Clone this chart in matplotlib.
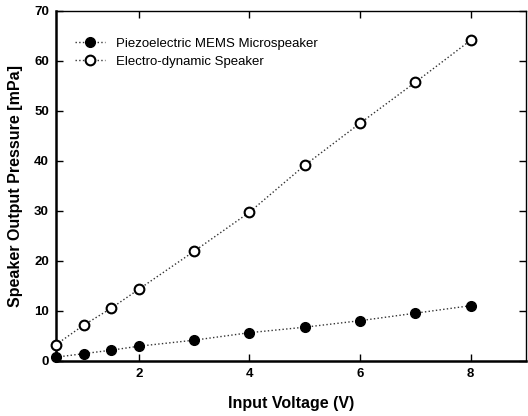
import matplotlib
matplotlib.use('Agg')
import matplotlib.pyplot as plt

plt.rcParams['font.family'] = ['Liberation Sans', 'DejaVu Sans']

voltage = [0.5, 1, 1.5, 2, 3, 4, 5, 6, 7, 8]
mems = [0.7, 1.4, 2.1, 2.9, 4.1, 5.6, 6.7, 8.0, 9.5, 11.0]
dynamic = [3.2, 7.1, 10.5, 14.3, 21.9, 29.7, 39.1, 47.5, 55.7, 64.1]
xticks = [2, 4, 6, 8]
yticks = [0, 10, 20, 30, 40, 50, 60, 70]

fig = plt.figure(figsize=(5.28, 4.16), dpi=100)
ax = fig.add_axes([0.106, 0.133, 0.89, 0.841])

ax.plot(voltage, mems, linestyle=':', color='#333333', lw=1,
        marker='o', markersize=7, markerfacecolor='black', markeredgecolor='black',
        label='Piezoelectric MEMS Microspeaker', clip_on=False, zorder=3)
ax.plot(voltage, dynamic, linestyle=':', color='#333333', lw=1,
        marker='o', markersize=7, markerfacecolor='white', markeredgecolor='black',
        markeredgewidth=1.5, label='Electro-dynamic Speaker', clip_on=False, zorder=3)

ax.set_xlim(0.5, 9)
ax.set_ylim(0, 70)
ax.set_xticks(xticks)
ax.set_yticks(yticks)
ax.tick_params(direction='in', top=True, right=True, length=5, width=1,
               labelsize=9.5, pad=5)
for lab in ax.get_xticklabels() + ax.get_yticklabels():
    lab.set_fontweight('bold')

for side in ['left', 'bottom']:
    ax.spines[side].set_linewidth(1.8)
for side in ['top', 'right']:
    ax.spines[side].set_linewidth(1)

ax.set_xlabel('Input Voltage (V)', fontsize=11.5, fontweight='bold', labelpad=12)
ax.set_ylabel('Speaker Output Pressure [mPa]', fontsize=11.5, fontweight='bold', labelpad=8)

ax.legend(loc='upper left', frameon=False, fontsize=9.5, handlelength=2.3,
          handletextpad=0.8, borderaxespad=0.3, labelspacing=0.45,
          bbox_to_anchor=(0.02, 0.95))

fig.savefig('out.png', dpi=100)
